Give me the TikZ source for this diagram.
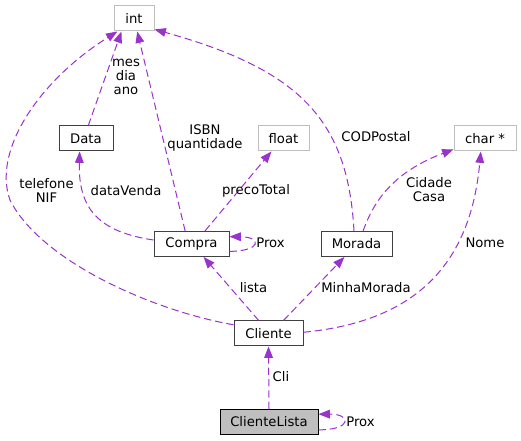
\documentclass[tikz,border=0pt]{standalone}
\usepackage{fontspec}
\setmainfont{DejaVu Sans}
\usetikzlibrary{arrows.meta}
\definecolor{relcol}{HTML}{9A32CD}
\definecolor{greybox}{HTML}{BFBFBF}
\tikzset{
  cls/.style={draw=black!75, line width=0.75pt, fill=white, minimum height=18.75pt,
    inner sep=0pt, font=\fontsize{9.9}{11}\selectfont},
  builtin/.style={cls, draw=greybox},
  rel/.style={draw=relcol, line width=0.75pt, dash pattern=on 5.5pt off 3pt,
    -{Triangle[length=8.5pt,width=6.5pt,fill=relcol]}},
  lbl/.style={align=center, inner sep=0pt, font=\fontsize{9.9}{10.5}\selectfont},
}

\begin{document}
\begin{tikzpicture}[x=0.75pt, y=-0.75pt]
			%%%%% START %%%%%
			\useasboundingbox[fill=white] (0, 0) rectangle (521, 441);
			
			% types
			\node[builtin, minimum width=30pt] (int) at (134, 18.5) {int};
			\node[builtin, minimum width=38.25pt] (float) at (283.5, 138.5) {float};
			\node[builtin, minimum width=46.5pt] (char) at (485, 138.5) {char *};
			
			% classes
			\node[cls, minimum width=40.5pt] (data) at (86, 138.5) {Data};
			\node[cls, minimum width=56.25pt] (compra) at (191.5, 244) {Compra};
			\node[cls, minimum width=53.25pt] (morada) at (356.5, 244) {Morada};
			\node[cls, minimum width=51.75pt] (cliente) at (268.5, 333.5) {Cliente};
			\node[cls, fill=greybox, draw=black, minimum width=73.5pt] (clientelista) at (269, 422) {ClienteLista};
			
			% relations
			\draw[rel] (cliente.166) .. controls (150, 310) and (40, 260) .. (10, 200)
			  .. controls (-8, 150) and (40, 80) .. (int.218);
			\draw[rel] (data.80) -- (int.226);
			\draw[rel] (compra.116) -- (int.-76);
			\draw[rel] (morada.101) .. controls (348, 120) and (300, 70) .. (int.-28);
			\draw[rel] (compra.174) .. controls (100, 232) and (78, 210) .. (data.244);
			\draw[rel] (compra.44) -- (float.227);
			\draw[rel] (compra.-11) .. controls (262, 251) and (262, 237) .. (compra.11);
			\draw[rel] (morada.63) .. controls (374, 200) and (394, 172) .. (char.199);
			\draw[rel] (cliente.2) .. controls (410, 322) and (470, 270) .. (char.252);
			\draw[rel] (cliente.127) -- (compra.-47);
			\draw[rel] (cliente.41) -- (morada.227);
			\draw[rel] (clientelista.north) -- (cliente.south);
			\draw[rel] (clientelista.-9) .. controls (352, 430) and (352, 414) .. (clientelista.9);
			
			% labels
			\node[lbl] (lblmes) at (126, 77) {mes\\dia\\ano};
			\node[lbl] (lblisbn) at (205, 138) {ISBN\\quantidade};
			\node[lbl] (lbltel) at (46.5, 190.5) {telefone\\NIF};
			\node[lbl] (lbldata) at (126, 191) {dataVenda};
			\node[lbl] (lblpreco) at (256, 191) {precoTotal};
			\node[lbl] (lblcod) at (376, 137) {CODPostal};
			\node[lbl] (lblcid) at (429, 190) {Cidade\\Casa};
			\node[lbl] (lblproxa) at (270.5, 243) {Prox};
			\node[lbl] (lblnome) at (485, 243) {Nome};
			\node[lbl] (lbllista) at (253.5, 288) {lista};
			\node[lbl] (lblminha) at (366, 288) {MinhaMorada};
			\node[lbl] (lblcli) at (281, 377) {Cli};
			\node[lbl] (lblproxb) at (360.5, 422) {Prox};
			
			%%%%% END %%%%%
\end{tikzpicture}
\end{document}
